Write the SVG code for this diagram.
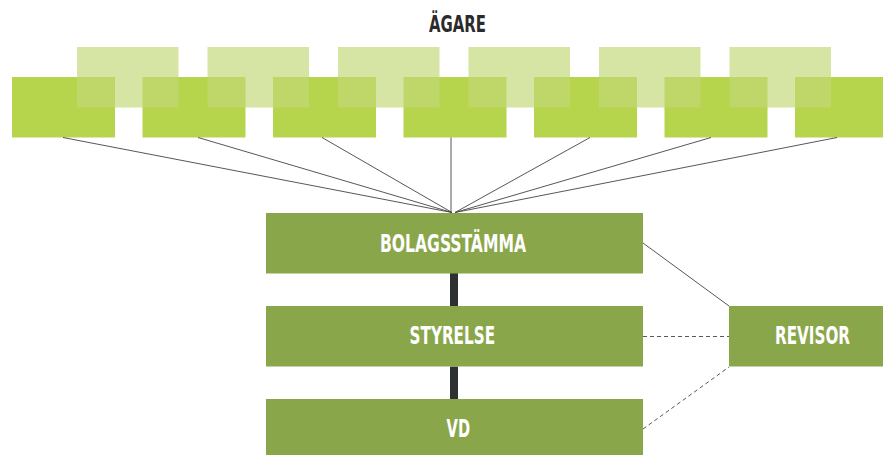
<svg xmlns="http://www.w3.org/2000/svg" width="883" height="455" viewBox="0 0 883 455">
<style>
.front{fill:#b6d44c}
.back{fill:#c2d978;fill-opacity:0.68}
.box{fill:#8aa64b}
.lbl{font-family:"Liberation Sans Narrow","DejaVu Sans Condensed","Liberation Sans",sans-serif;font-weight:bold;font-size:24px;fill:#ffffff;text-anchor:middle}
.title{font-family:"Liberation Sans Narrow","DejaVu Sans Condensed","Liberation Sans",sans-serif;font-weight:bold;font-size:23px;fill:#2b2b2b;text-anchor:middle}
.thin{stroke:#444;stroke-width:0.9;fill:none}
.dash{stroke:#444;stroke-width:0.9;fill:none;stroke-dasharray:4 3}
.thick{stroke:#2e3132;stroke-width:8;fill:none}
</style>
<rect width="883" height="455" fill="#ffffff"/>
<g id="title">
<text class="title" x="457.5" y="31.7" textLength="57" lengthAdjust="spacingAndGlyphs">ÄGARE</text>
</g>
<g id="owners">
<rect id="owner1" class="front" x="12" y="77" width="103" height="60.5"/>
<rect id="owner2" class="front" x="142.5" y="77" width="103" height="60.5"/>
<rect id="owner3" class="front" x="273" y="77" width="103" height="60.5"/>
<rect id="owner4" class="front" x="403.5" y="77" width="103" height="60.5"/>
<rect id="owner5" class="front" x="534" y="77" width="103" height="60.5"/>
<rect id="owner6" class="front" x="664.5" y="77" width="103" height="60.5"/>
<rect id="owner7" class="front" x="795" y="77" width="103" height="60.5"/>
<rect id="owner8" class="back" x="77" y="47" width="101.5" height="60.5"/>
<rect id="owner9" class="back" x="207.5" y="47" width="101.5" height="60.5"/>
<rect id="owner10" class="back" x="338" y="47" width="101.5" height="60.5"/>
<rect id="owner11" class="back" x="468.5" y="47" width="101.5" height="60.5"/>
<rect id="owner12" class="back" x="599" y="47" width="101.5" height="60.5"/>
<rect id="owner13" class="back" x="729.5" y="47" width="101.5" height="60.5"/>
</g>
<g id="connectors">
<line class="thin" x1="63" y1="137.5" x2="452" y2="212.5"/>
<line class="thin" x1="198" y1="137.5" x2="452" y2="212.5"/>
<line class="thin" x1="322" y1="137.5" x2="452" y2="212.5"/>
<line class="thin" x1="451" y1="137.5" x2="451" y2="212.5"/>
<line class="thin" x1="590" y1="137.5" x2="455" y2="212.5"/>
<line class="thin" x1="711" y1="137.5" x2="455" y2="212.5"/>
<line class="thin" x1="837" y1="137.5" x2="455" y2="212.5"/>
<line class="thick" x1="454" y1="273" x2="454" y2="306"/>
<line class="thick" x1="454" y1="366.5" x2="454" y2="399"/>
<line class="thin" x1="643" y1="243" x2="729" y2="306"/>
<line class="dash" x1="643" y1="336.5" x2="729" y2="336.5"/>
<line class="dash" x1="643" y1="429" x2="729" y2="367"/>
</g>
<g id="bolagsstamma">
<rect class="box" x="266" y="213" width="377" height="60.5"/>
<text class="lbl" x="453" y="252.3" textLength="146" lengthAdjust="spacingAndGlyphs">BOLAGSSTÄMMA</text>
</g>
<g id="styrelse">
<rect class="box" x="266" y="306" width="377" height="60.5"/>
<text class="lbl" x="452.3" y="344.3" textLength="85.5" lengthAdjust="spacingAndGlyphs">STYRELSE</text>
</g>
<g id="vd">
<rect class="box" x="266" y="399" width="377" height="60.5"/>
<text class="lbl" x="458.3" y="437.3" textLength="23.5" lengthAdjust="spacingAndGlyphs">VD</text>
</g>
<g id="revisor">
<rect class="box" x="729" y="306" width="168" height="60.5"/>
<text class="lbl" x="812.5" y="344" textLength="75" lengthAdjust="spacingAndGlyphs">REVISOR</text>
</g>
</svg>
